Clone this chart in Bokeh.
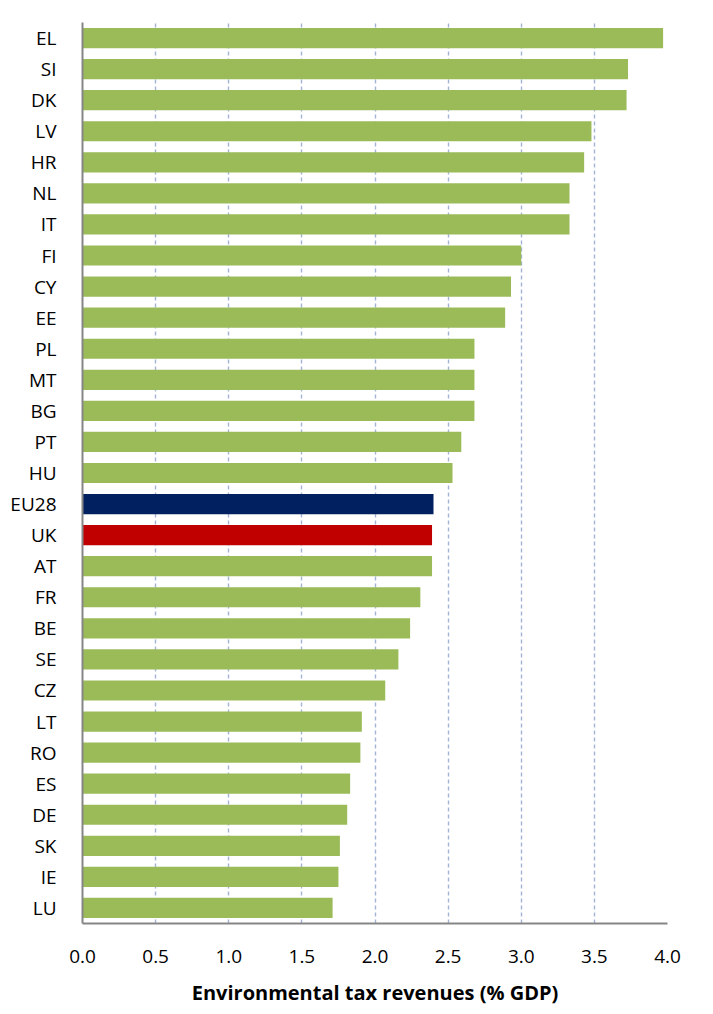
from bokeh.plotting import figure
from bokeh.models import ColumnDataSource, FactorRange, Range1d, FixedTicker, NumeralTickFormatter
from bokeh.embed import file_html
from bokeh.resources import INLINE

# Environmental tax revenues, % of GDP (top to bottom as in the chart)
countries = ["EL", "SI", "DK", "LV", "HR", "NL", "IT", "FI", "CY", "EE",
             "PL", "MT", "BG", "PT", "HU", "EU28", "UK", "AT", "FR", "BE",
             "SE", "CZ", "LT", "RO", "ES", "DE", "SK", "IE", "LU"]
revenues = [3.97, 3.73, 3.72, 3.48, 3.43, 3.33, 3.33, 3.00, 2.93, 2.89,
            2.68, 2.68, 2.68, 2.59, 2.53, 2.40, 2.39, 2.39, 2.31, 2.24,
            2.16, 2.07, 1.91, 1.90, 1.83, 1.81, 1.76, 1.75, 1.71]
x_ticks = [0.0, 0.5, 1.0, 1.5, 2.0, 2.5, 3.0, 3.5, 4.0]

GREEN = "#9BBB59"
highlight = {"EU28": "#002060", "UK": "#C00000"}
colors = [highlight.get(c, GREEN) for c in countries]

source = ColumnDataSource(data=dict(country=countries, value=revenues, color=colors))

p = figure(width=705, height=1010,
           y_range=FactorRange(factors=countries[::-1], range_padding=0.0),
           x_range=Range1d(0, 4.0),
           output_backend="svg", toolbar_location=None,
           min_border_left=82, min_border_right=38, min_border_top=22, min_border_bottom=87)

p.hbar(y="country", right="value", height=0.65, source=source,
       fill_color="color", line_color=None)

p.outline_line_color = None
p.ygrid.grid_line_color = None

p.xgrid.ticker = FixedTicker(ticks=x_ticks[1:])
p.xgrid.grid_line_color = "#A3B3D6"
p.xgrid.grid_line_dash = "4 3"
p.xgrid.grid_line_width = 1.4

p.xaxis.ticker = FixedTicker(ticks=x_ticks)
p.xaxis.formatter = NumeralTickFormatter(format="0.0")
p.xaxis.axis_label = "Environmental tax revenues (% GDP)"

for ax in (p.xaxis, p.yaxis):
    ax.axis_line_color = "#868686"
    ax.axis_line_width = 2
    ax.major_tick_line_color = None
    ax.minor_tick_line_color = None
    ax.major_label_text_font = "Open Sans"
    ax.major_label_text_font_size = "19px"
    ax.major_label_text_color = "#000000"

p.yaxis.major_label_standoff = 20
p.xaxis.major_label_standoff = 20
p.xaxis.axis_label_standoff = 13
p.xaxis.axis_label_text_font = "Open Sans"
p.xaxis.axis_label_text_font_size = "20px"
p.xaxis.axis_label_text_font_style = "bold"
p.xaxis.axis_label_text_color = "#000000"

open("out.html", "w").write(file_html(p, INLINE))
